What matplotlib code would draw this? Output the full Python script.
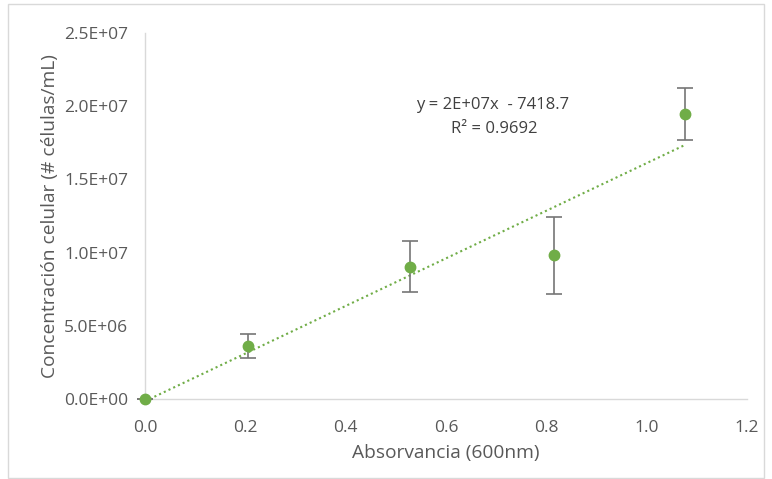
import numpy as np
import matplotlib.pyplot as plt
from matplotlib.patches import Rectangle

# data
absorbance = [0.0, 0.205, 0.529, 0.815, 1.076]
concentration = [0.0, 3.62e6, 9.04e6, 9.81e6, 1.947e7]
conc_err = [0.0, 0.84e6, 1.72e6, 2.65e6, 1.78e6]
x_ticks = [0.0, 0.2, 0.4, 0.6, 0.8, 1.0, 1.2]
y_ticks = [0, 5e6, 1e7, 1.5e7, 2e7, 2.5e7]
eq_text = "y = 2E+07x  - 7418.7"
r2_text = "R² = 0.9692"

plt.rcParams['font.family'] = ['Open Sans', 'DejaVu Sans']
green = "#70AD47"
gray_txt = "#595959"

fig = plt.figure(figsize=(7.72, 4.79), dpi=100)
ax = fig.add_axes([145 / 772, 1 - 399 / 479, (747 - 145) / 772, (399 - 33) / 479])

# outer chart border
fig.patches.append(Rectangle((8 / 772, 0.002), (764 - 8) / 772, 1 - 4 / 479 - 0.002,
                             transform=fig.transFigure, fill=False,
                             edgecolor="#d9d9d9", linewidth=1.0))

# linear trendline through the points (same as Excel)
slope, intercept = np.polyfit(absorbance, concentration, 1)
xt = np.array([min(absorbance), max(absorbance)])
ax.plot(xt, slope * xt + intercept, linestyle=(0, (1, 1.5)), color=green, linewidth=1.5, zorder=2)

ax.errorbar(absorbance, concentration, yerr=conc_err, fmt='o', color=green,
            markersize=7.5, ecolor="#767676", elinewidth=1.2, capsize=5.5, capthick=1.2,
            zorder=3, clip_on=False)

ax.text(0.693, 2.01e7, eq_text, ha='center', va='center', fontsize=12, color="#404040")
ax.text(0.697, 1.845e7, r2_text, ha='center', va='center', fontsize=12, color="#404040")

ax.set_xlim(0, 1.2)
ax.set_ylim(0, 2.5e7)
ax.set_xticks(x_ticks)
ax.set_xticklabels([f"{v:.1f}" for v in x_ticks])
ax.set_yticks(y_ticks)
ax.set_yticklabels([f"{v:.1E}" for v in y_ticks])
ax.tick_params(length=0, labelsize=12.5, colors=gray_txt)
ax.tick_params(axis='x', pad=15)
ax.tick_params(axis='y', pad=12)

for s in ['top', 'right']:
    ax.spines[s].set_visible(False)
for s in ['left', 'bottom']:
    ax.spines[s].set_color("#d9d9d9")
    ax.spines[s].set_linewidth(1.0)

ax.set_xlabel("Absorvancia (600nm)", fontsize=13.8, color=gray_txt, labelpad=6)
ax.set_ylabel("Concentración celular (# células/mL)", fontsize=13.8, color=gray_txt, labelpad=4)

plt.savefig("out.png", dpi=100)
plt.close()
